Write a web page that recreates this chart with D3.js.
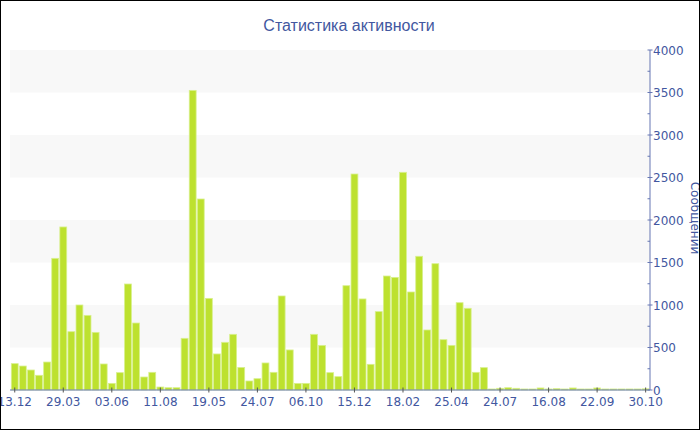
<!DOCTYPE html>
<html><head><meta charset="utf-8">
<script src="https://cdn.jsdelivr.net/npm/d3@7"></script>
<style>html,body{margin:0;padding:0;background:#fff;}svg{display:block;}</style>
</head><body>
<script>
const title = "Статистика активности";
const yTitle = "Сообщений";
const values = [310,282,235,173,329,1549,1918,686,1000,878,
  678,306,78,204,1247,788,153,208,35,27,
  27,608,3525,2247,1078,424,561,655,265,106,
  133,318,208,1106,471,78,78,655,525,204,
  157,1227,2541,1071,302,922,1341,1325,2561,1153,
  1573,706,1486,592,525,1027,961,208,263,12,
  20,27,20,12,12,24,12,16,12,24,
  12,12,24,12,12,12,12,12,14];
const tickLabels = ["13.12","29.03","03.06","11.08","19.05","24.07","06.10","15.12","18.02","25.04","24.07","16.08","22.09","30.10"];
const tickEvery = 6;
const yTicks = [0,500,1000,1500,2000,2500,3000,3500,4000];

(function(){
const W=700,H=430;
const mLeft=10.7,mRight=649.7,mTop=50,mBottom=390;
const txt="#4257a0", axisCol="#6677b3";
const svg=d3.select("body").append("svg").attr("width",W).attr("height",H);

const x=d3.scaleBand().domain(values.map((d,i)=>i)).range([mLeft,mRight]).paddingInner(0.15).paddingOuter(0.075);
const y=d3.scaleLinear().domain([0,4000]).range([mBottom,mTop]);

// bands
const bands=d3.range(500,4000,1000);
svg.append("g").selectAll("rect").data(bands).join("rect")
  .attr("x",10).attr("width",640)
  .attr("y",d=>y(d+500)).attr("height",d=>y(d)-y(d+500))
  .attr("fill","#f8f8f8");

// bars
svg.append("g").selectAll("rect").data(values).join("rect")
  .attr("x",(d,i)=>x(i)).attr("width",x.bandwidth())
  .attr("y",d=>y(d)).attr("height",d=>mBottom-y(d))
  .attr("fill","#bde12f").attr("stroke","#d8f08e").attr("stroke-width",0.8);

// x axis
const xa=svg.append("g").attr("transform",`translate(0,${mBottom})`);
xa.append("line").attr("x1",10).attr("x2",650).attr("stroke",axisCol);
const tickIdx=tickLabels.map((t,k)=>k*tickEvery);
xa.selectAll("line.t").data(tickIdx).join("line").attr("class","t")
  .attr("x1",d=>x(d)+x.bandwidth()/2).attr("x2",d=>x(d)+x.bandwidth()/2)
  .attr("y1",-2.5).attr("y2",2.5).attr("stroke","#555");
xa.selectAll("text").data(tickIdx).join("text")
  .attr("x",d=>x(d)+x.bandwidth()/2).attr("y",15.5)
  .attr("text-anchor","middle").attr("fill",txt)
  .style("font-family","DejaVu Sans").style("font-size","12px")
  .text((d,k)=>tickLabels[k]);

// y axis (right)
const ya=svg.append("g").attr("transform",`translate(650,0)`);
ya.append("line").attr("y1",mTop).attr("y2",mBottom).attr("stroke",axisCol);
ya.selectAll("line.m").data(d3.range(250,4000,500)).join("line").attr("class","m")
  .attr("x1",-2.5).attr("x2",0).attr("y1",d=>y(d)).attr("y2",d=>y(d)).attr("stroke",axisCol);
ya.selectAll("line.t").data(yTicks).join("line").attr("class","t")
  .attr("x1",-2.5).attr("x2",2.5).attr("y1",d=>y(d)).attr("y2",d=>y(d)).attr("stroke",axisCol);
ya.selectAll("text").data(yTicks).join("text")
  .attr("x",3).attr("y",d=>y(d)+4.5).attr("fill",txt)
  .style("font-family","DejaVu Sans").style("font-size","12px")
  .text(d=>d);

svg.append("text").attr("transform","translate(690.5,218) rotate(90)")
  .attr("text-anchor","middle").attr("fill",txt)
  .style("font-family","DejaVu Sans").style("font-size","12px").text(yTitle);

svg.append("text").attr("x",349).attr("y",31).attr("text-anchor","middle")
  .attr("fill",txt).style("font-family","Liberation Sans").style("font-size","16px").text(title);

svg.append("rect").attr("x",0.5).attr("y",0.5).attr("width",W-1).attr("height",H-1)
  .attr("fill","none").attr("stroke","#000");
})();
</script>
</body></html>
